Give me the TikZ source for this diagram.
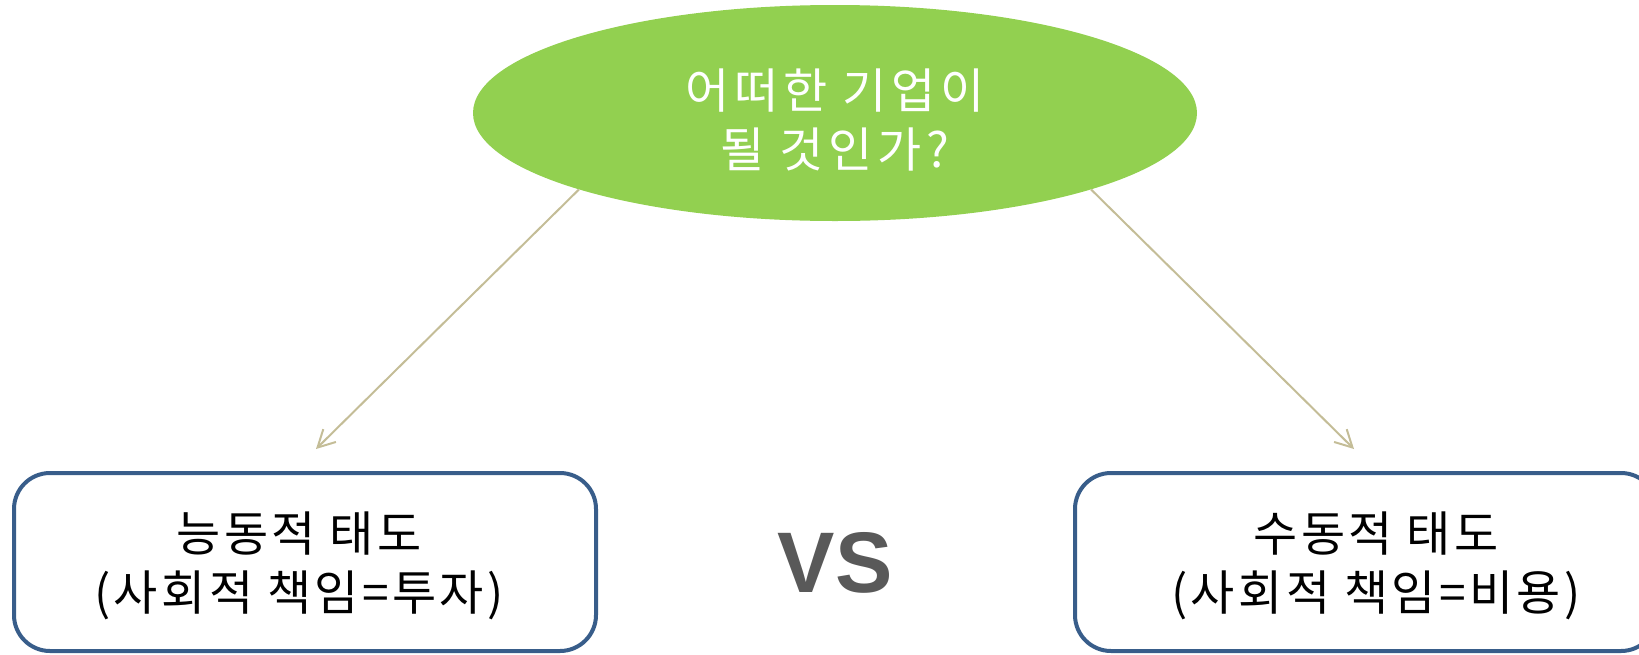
\documentclass[tikz,border=0pt]{standalone}
\usepackage{fontspec}
\setmainfont{Noto Sans CJK KR}
\newfontfamily\questfont[LetterSpace=10]{Noto Sans CJK KR}
\newfontfamily\boxfont[LetterSpace=7]{Noto Sans CJK KR}
\newfontfamily\vsfont{Liberation Sans}
\usetikzlibrary{arrows.meta,shapes.geometric}
\definecolor{leafgreen}{HTML}{92D050}
\definecolor{frameblue}{HTML}{385D8A}
\definecolor{sand}{HTML}{C4BD97}
\definecolor{vsgray}{HTML}{595959}

\begin{document}
\begin{tikzpicture}[x=1pt,y=-1pt,
  attitude/.style={draw=frameblue, line width=4pt, rounded corners=36pt,
    minimum width=582pt, minimum height=178pt, inner sep=0pt, align=center,
    font=\boxfont\fontsize{48}{59}\selectfont},
  branch/.style={sand, line width=2pt, -{Straight Barb[length=17pt,width=18pt]}}]
  \useasboundingbox (0,0) rectangle (1639,654);
  \clip (0,0) rectangle (1639,654);
  % question
  \node [ellipse, fill=leafgreen, minimum width=724pt, minimum height=216pt,
    inner sep=0pt, text=white, align=center,
    font=\questfont\fontsize{48}{59}\selectfont] (question) at (835,113)
    {};
  \node [text=white, align=center, font=\questfont\fontsize{48}{59}\selectfont]
    (questtext) at (835,120) {어떠한 기업이\\될 것인가?};
  % attitudes
  \node [attitude] (active) at (305,562) {};
  \node [align=center, font=\boxfont\fontsize{48}{59}\selectfont]
    (activetext) at (299,566) {능동적 태도\\(사회적 책임=투자)};
  \node [attitude] (passive) at (1366,562) {};
  \node [align=center, font=\boxfont\fontsize{48}{59}\selectfont]
    (passivetext) at (1376,566) {수동적 태도\\(사회적 책임=비용)};
  \node [text=vsgray, font=\vsfont\bfseries\fontsize{86}{86}\selectfont] (vs)
    at (835,563) {VS};
  % arrows
  \coordinate (activetip) at (316,449);
  \coordinate (passivetip) at (1354,449);
  \draw [branch] (question.south west) -- (activetip);
  \draw [branch] (question.south east) -- (passivetip);
\end{tikzpicture}
\end{document}
